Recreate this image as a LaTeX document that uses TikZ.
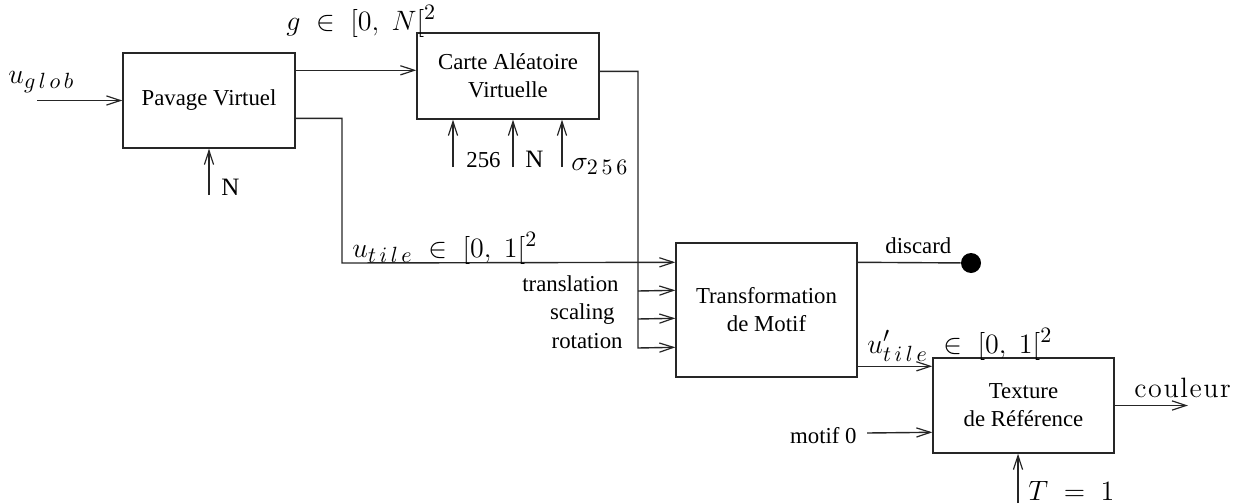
\documentclass[tikz,border=0pt]{standalone}
\usepackage{fontspec}
\usepackage{fix-cm}
\DeclareMathSizes{14}{14}{11}{9}
\newfontfamily\tms{Liberation Serif}
\usetikzlibrary{arrows.meta,calc}
\tikzset{
  arr/.style={draw=black!85, line width=0.7pt, -{Straight Barb[length=7pt,width=4.6pt,line width=0.6pt]}},
  ln/.style={draw=black!85, line width=0.7pt},
  blk/.style={draw=black!85, line width=0.7pt, rectangle, inner sep=0pt, align=center,
    font=\tms\fontsize{11.4}{14}\selectfont},
  tlab/.style={inner sep=0pt, font=\tms\fontsize{11.4}{14}\selectfont},
  blab/.style={inner sep=0pt, font=\tms\fontsize{12.5}{14}\selectfont},
  mlab/.style={inner sep=0pt, font=\fontsize{14}{16}\selectfont},
}
\begin{document}
\begin{tikzpicture}[x=0.5pt,y=-0.5pt]
\useasboundingbox (0,0) rectangle (1236,503);
% blocks
\node[blk, minimum width=86pt, minimum height=47.5pt] (pav) at (209,100.5) {Pavage Virtuel};
\node[blk, minimum width=91pt, minimum height=43pt] (car) at (508,76) {Carte Aléatoire\\Virtuelle};
\node[blk, minimum width=90.5pt, minimum height=67pt] (tr) at (766.5,310) {Transformation\\de Motif};
\node[blk, minimum width=90.5pt, minimum height=47.5pt] (tex) at (1023.5,405.5) {Texture\\de Référence};
\node[circle, fill=black, inner sep=0pt, minimum size=10pt] (disc) at (971,263) {};
% free ends
\coordinate (uin) at (37,100.5);
\coordinate (nin) at (209,195);
\coordinate (i256) at (453,167);
\coordinate (iN) at (513,167);
\coordinate (isig) at (562,167);
\coordinate (c1) at (342,263);
\coordinate (c2) at (638,348);
\coordinate (c3) at (638,291);
\coordinate (c4) at (638,319);
\coordinate (out) at (1188,405.5);
\coordinate (tin) at (1018,503);
\coordinate (min) at (867,433);
% connectors
\draw[arr] (uin) -- (pav.west);
\draw[arr] (nin) -- (pav.south);
\draw[arr] ($(pav.north east)+(0,18)$) -- ($(car.north west)+(0,38)$);
\draw[arr] (i256) -- (i256 |- car.south);
\draw[arr] (iN) -- (iN |- car.south);
\draw[arr] (isig) -- (isig |- car.south);
\draw[arr] ($(pav.north east)+(0,66)$) -| (c1) -- ($(tr.north west)+(0,20)$);
\draw[arr] ($(car.north east)+(0,39)$) -| (c2) -- ($(tr.north west)+(0,105)$);
\draw[arr] (c3) -- ($(tr.north west)+(0,48)$);
\draw[arr] (c4) -- ($(tr.north west)+(0,76)$);
\draw[ln] ($(tr.north east)+(0,20)$) -- (disc);
\draw[arr] ($(tr.north east)+(0,124)$) -- ($(tex.north west)+(0,9)$);
\draw[arr] (tex.east) -- (out);
\draw[arr] (min) -- ($(tex.north west)+(0,75)$);
\draw[arr] (tin) -- (tin |- tex.south);
% labels
\node[mlab, anchor=base west] at (8,83) {$u_{g\,l\,o\,b}$};
\node[blab, anchor=base west] at (221,195) {N};
\node[mlab, anchor=base west] at (286,30) {$g\;\in\;[0,\;N[^2$};
\node[tlab, anchor=base west] at (466,167) {256};
\node[blab, anchor=base west] at (525,167) {N};
\node[mlab, anchor=base west] at (571,170) {$\sigma_{2\,5\,6}$};
\node[mlab, anchor=base west] at (352,257) {$u_{t\,i\,l\,e}\;\in\;[0,\;1[^2$};
\node[tlab, anchor=base east] at (619,291) {translation};
\node[tlab, anchor=base east] at (615,319) {scaling};
\node[tlab, anchor=base east] at (623,348) {rotation};
\node[tlab, anchor=base west] at (885,253) {discard};
\node[mlab, anchor=base west] at (867,353) {$u'_{t\,i\,l\,e}\;\in\;[0,\;1[^2$};
\node[mlab, anchor=base west] at (1134,397) {c\kern.8pt o\kern.8pt u\kern.8pt l\kern.8pt e\kern.8pt u\kern.8pt r};
\node[tlab, anchor=base east] at (857,443) {motif 0};
\node[mlab, anchor=base west] at (1028,500) {$T\;=\;1$};
\end{tikzpicture}
\end{document}
